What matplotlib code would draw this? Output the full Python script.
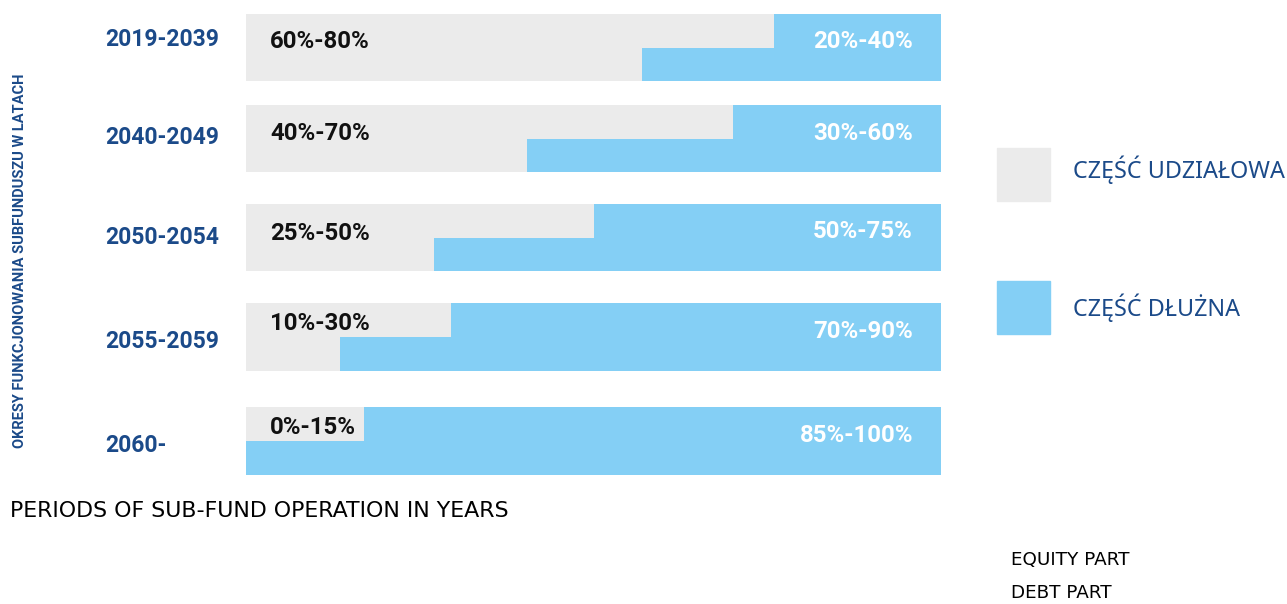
import matplotlib.pyplot as plt

# okresy i zakresy udziałów (w %)
okresy = ['2019-2039', '2040-2049', '2050-2054', '2055-2059', '2060-']
udzial_akcji = ['60%-80%', '40%-70%', '25%-50%', '10%-30%', '0%-15%']
udzial_dlugu = ['20%-40%', '30%-60%', '50%-75%', '70%-90%', '85%-100%']
dlug_min = [24, 30, 50, 70.5, 83]
dlug_max = [43, 59.5, 73, 86.5, 100]

szary = '#ebebeb'
niebieski = '#84cff5'
granat = '#1b4a89'

W, H = 1287, 604
fig = plt.figure(figsize=(W / 100, H / 100), dpi=100)

# os z paskami
ax = fig.add_axes([246 / W, 0, 695 / W, 1])
ax.set_xlim(0, 100)
ax.set_ylim(H, 0)
ax.axis('off')

# warstwa na teksty w pikselach (nad paskami)
tlo = fig.add_axes([0, 0, 1, 1])
tlo.set_xlim(0, W)
tlo.set_ylim(H, 0)
tlo.axis('off')
tlo.set_zorder(3)

wiersze = [47.5, 138.5, 237.5, 337, 441]
h = 67.5
y_akcje = [42, 133, 233, 324, 428]
y_dlug = [42, 133, 232, 332, 436]
y_okres = [40, 138, 238, 342, 445]

for i in range(len(okresy)):
    y = wiersze[i]
    ax.barh(y, 100, height=h, left=0, color=szary)
    ax.barh(y - h / 4, dlug_min[i], height=h / 2, left=100 - dlug_min[i], color=niebieski)
    ax.barh(y + h / 4, dlug_max[i], height=h / 2, left=100 - dlug_max[i], color=niebieski)
    tlo.text(270, y_akcje[i], udzial_akcji[i], ha='left', va='center',
             family='Roboto', weight='bold', fontsize=17.3, color='#111111')
    tlo.text(913, y_dlug[i], udzial_dlugu[i], ha='right', va='center',
             family='Roboto', weight='bold', fontsize=17.3, color='white')
    tlo.text(105, y_okres[i], okresy[i], ha='left', va='center',
             family='Roboto', weight='bold', fontsize=16.5, color=granat)

tlo.text(20, 261, 'OKRESY FUNKCJONOWANIA SUBFUNDUSZU W LATACH', rotation=90,
         ha='center', va='center', family='Roboto', weight='bold', fontsize=10.5, color=granat)

# legenda
tlo.add_patch(plt.Rectangle((997, 148), 53, 53, color=szary))
tlo.add_patch(plt.Rectangle((997, 281), 53, 53, color=niebieski))
tlo.text(1073, 170, 'CZĘŚĆ UDZIAŁOWA', ha='left', va='center',
         family='Noto Sans', fontsize=16.8, color=granat)
tlo.text(1073, 308, 'CZĘŚĆ DŁUŻNA', ha='left', va='center',
         family='Noto Sans', fontsize=16.8, color=granat)

tlo.text(10, 511, 'PERIODS OF SUB-FUND OPERATION IN YEARS', ha='left', va='center',
         family='DejaVu Sans', fontsize=15.9, color='black')
tlo.text(1011, 560, 'EQUITY PART', ha='left', va='center',
         family='DejaVu Sans', fontsize=13.2, color='black')
tlo.text(1011, 593, 'DEBT PART', ha='left', va='center',
         family='DejaVu Sans', fontsize=13.2, color='black')

fig.savefig('out.png', dpi=100)
